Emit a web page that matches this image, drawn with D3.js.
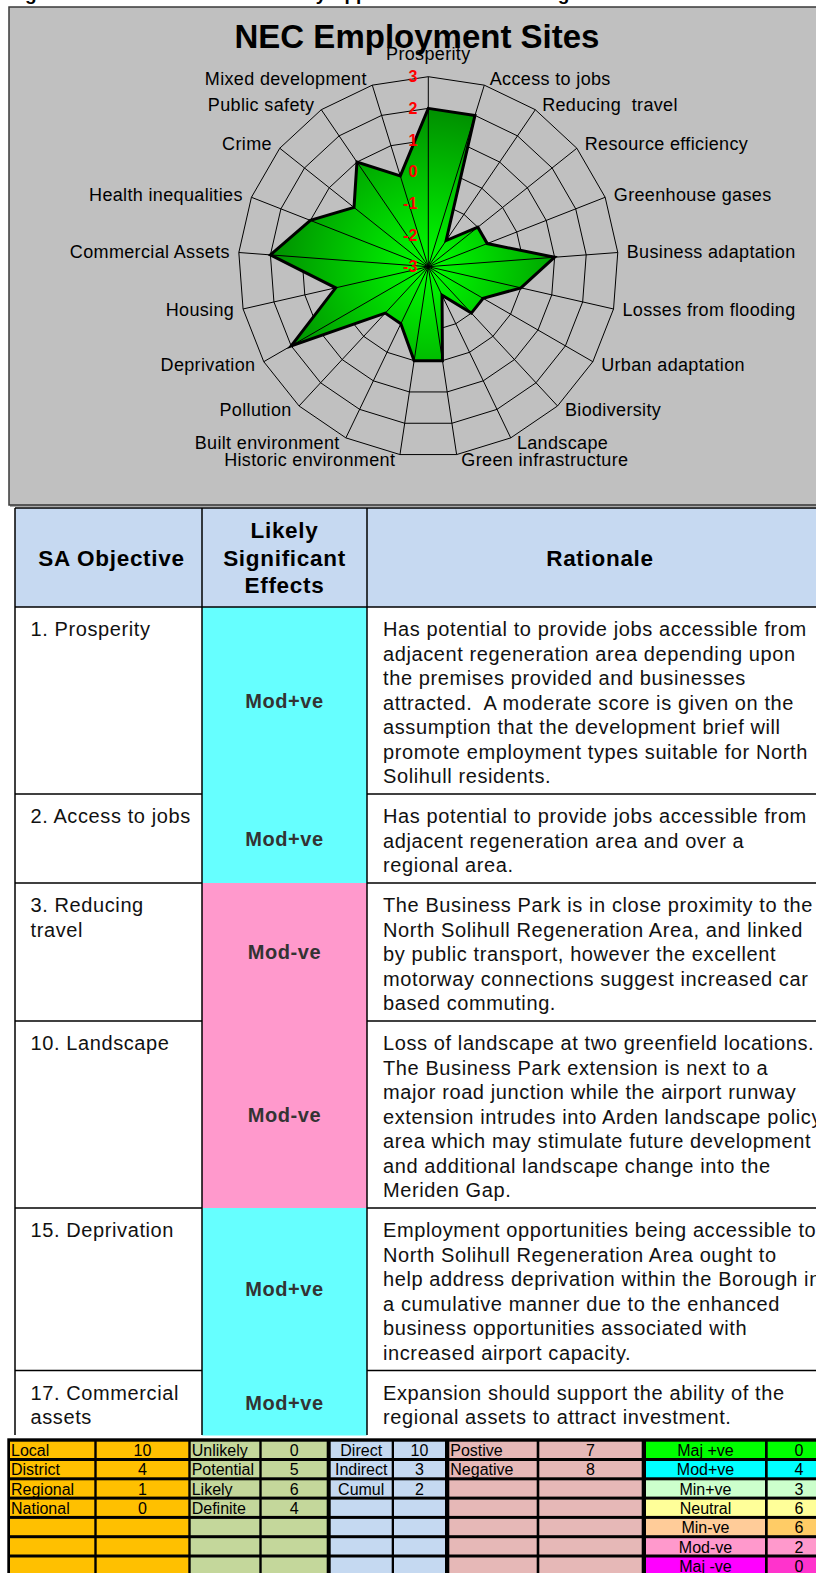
<!DOCTYPE html>
<html>
<head>
<meta charset="utf-8">
<script src="https://cdn.jsdelivr.net/npm/d3@7"></script>
<style>
  body { margin: 0; background: #fff; }
  svg { display: block; font-family: "Liberation Sans", Arial, Helvetica, sans-serif; }
</style>
</head>
<body>
<div id="chart"></div>
<script>
// radar data
const axes = ["Prosperity", "Access to jobs", "Reducing  travel", "Resource efficiency", "Greenhouse gases",
  "Business adaptation", "Losses from flooding", "Urban adaptation", "Biodiversity", "Landscape",
  "Green infrastructure", "Historic environment", "Built environment", "Pollution", "Deprivation",
  "Housing", "Commercial Assets", "Health inequalities", "Crime", "Public safety", "Mixed development"];
const scores = [2, 2, -2, -1, -1, 1, 0, -1, -1, -2, 0, 0, -1, -1, 2, 0, 2, 1, 0, 1, 0];
const ticks = [3, 2, 1, 0, -1, -2, -3];

// table data
const headers = [["SA Objective"], ["Likely", "Significant", "Effects"], ["Rationale"]];
const objectives = [["1. Prosperity"], ["2. Access to jobs"], ["3. Reducing", "travel"],
  ["10. Landscape"], ["15. Deprivation"], ["17. Commercial", "assets"]];
const effects = ["Mod+ve", "Mod+ve", "Mod-ve", "Mod-ve", "Mod+ve", "Mod+ve"];
const rationale = [
  ["Has potential to provide jobs accessible from", "adjacent regeneration area depending upon",
   "the premises provided and businesses", "attracted.  A moderate score is given on the",
   "assumption that the development brief will", "promote employment types suitable for North",
   "Solihull residents."],
  ["Has potential to provide jobs accessible from", "adjacent regeneration area and over a",
   "regional area."],
  ["The Business Park is in close proximity to the", "North Solihull Regeneration Area, and linked",
   "by public transport, however the excellent", "motorway connections suggest increased car",
   "based commuting."],
  ["Loss of landscape at two greenfield locations.", "The Business Park extension is next to a",
   "major road junction while the airport runway", "extension intrudes into Arden landscape policy",
   "area which may stimulate future development", "and additional landscape change into the",
   "Meriden Gap."],
  ["Employment opportunities being accessible to", "North Solihull Regeneration Area ought to",
   "help address deprivation within the Borough in", "a cumulative manner due to the enhanced",
   "business opportunities associated with", "increased airport capacity."],
  ["Expansion should support the ability of the", "regional assets to attract investment."]
];

// summary counts
const extentLabels = ["Local", "District", "Regional", "National"];
const extentCounts = [10, 4, 1, 0];
const likelihoodLabels = ["Unlikely", "Potential", "Likely", "Definite"];
const likelihoodCounts = [0, 5, 6, 4];
const typeLabels = ["Direct", "Indirect", "Cumul"];
const typeCounts = [10, 3, 2];
const directionLabels = ["Postive", "Negative"];
const directionCounts = [7, 8];
const ratingLabels = ["Maj +ve", "Mod+ve", "Min+ve", "Neutral", "Min-ve", "Mod-ve", "Maj -ve"];
const ratingCounts = [0, 4, 3, 6, 6, 2, 0];

const width = 816, height = 1573;

const svg = d3.select("#chart")
  .append("svg")
  .attr("width", width)
  .attr("height", height);

svg.append("rect").attr("width", width).attr("height", height).attr("fill", "#fff");

// caption, cut off by the page top
svg.append("text")
  .attr("x", 8).attr("y", -0.3)
  .attr("font-size", 19).attr("font-weight", "bold")
  .text("Figure 10.4 NEC Sites Area \u2013 Likely Appraisal Outcome Rating");

// chart area
svg.append("rect")
  .attr("x", 9).attr("y", 7)
  .attr("width", 840).attr("height", 498)
  .attr("fill", "#c0c0c0")
  .attr("stroke", "#3a3a3a")
  .attr("stroke-width", 1.5);
svg.append("line")
  .attr("x1", 10).attr("x2", width).attr("y1", 505.5).attr("y2", 505.5)
  .attr("stroke", "#555").attr("stroke-width", 2);

svg.append("text")
  .attr("x", 417).attr("y", 48)
  .attr("text-anchor", "middle")
  .attr("font-size", 33).attr("font-weight", "bold")
  .text("NEC Employment Sites");

const cx = 428.3, cy = 266.7;
let rScale = d3.scaleLinear().domain([-3, 3]).range([0, 190]);
let aScale = d3.scaleLinear().domain([0, axes.length]).range([0, 2 * Math.PI]);

let defs = svg.append("defs");
let grad = defs.append("radialGradient")
  .attr("id", "fillGrad")
  .attr("gradientUnits", "userSpaceOnUse")
  .attr("cx", 0).attr("cy", 0).attr("r", 165);
grad.append("stop").attr("offset", "0%").attr("stop-color", "#00ff00");
grad.append("stop").attr("offset", "100%").attr("stop-color", "#008a00");

let radar = svg.append("g").attr("transform", `translate(${cx},${cy})`);

let ring = d3.lineRadial()
  .angle((d, i) => aScale(i))
  .radius(d => rScale(d))
  .curve(d3.curveLinearClosed);

// grid rings
radar.selectAll("path.ring")
  .data(ticks.filter(t => t > -3))
  .join("path")
  .attr("class", "ring")
  .attr("d", t => ring(axes.map(() => t)))
  .attr("fill", "none")
  .attr("stroke", "#000")
  .attr("stroke-width", 1);

// filled series
radar.append("path")
  .attr("d", ring(scores))
  .attr("fill", "url(#fillGrad)");

// spokes
radar.selectAll("line.spoke")
  .data(axes)
  .join("line")
  .attr("class", "spoke")
  .attr("x1", 0).attr("y1", 0)
  .attr("x2", (d, i) => rScale(3) * Math.sin(aScale(i)))
  .attr("y2", (d, i) => -rScale(3) * Math.cos(aScale(i)))
  .attr("stroke", "#000")
  .attr("stroke-width", 1);

radar.append("path")
  .attr("d", ring(scores))
  .attr("fill", "none")
  .attr("stroke", "#000")
  .attr("stroke-width", 3)
  .attr("stroke-linejoin", "miter");

// category labels
radar.selectAll("text.cat")
  .data(axes)
  .join("text")
  .attr("class", "cat")
  .attr("font-size", 18)
  .attr("letter-spacing", 0.35)
  .style("white-space", "pre")
  .each(function (d, i) {
    let a = aScale(i), s = Math.sin(a), c = Math.cos(a);
    let vx = rScale(3) * s, vy = -rScale(3) * c;
    let t = d3.select(this);
    if (Math.abs(s) < 0.01) {
      t.attr("x", vx).attr("y", vy - 17).attr("text-anchor", "middle");
    } else {
      t.attr("x", vx + Math.sign(s) * (4 + 5 * Math.abs(s)))
        .attr("y", vy + 6 - 6 * c)
        .attr("text-anchor", s > 0 ? "start" : "end");
    }
  })
  .text(d => d);

// value labels
radar.selectAll("text.tick")
  .data(ticks)
  .join("text")
  .attr("class", "tick")
  .attr("x", -11)
  .attr("y", d => -rScale(d))
  .attr("dy", "0.36em")
  .attr("text-anchor", "end")
  .attr("font-size", 16)
  .attr("font-weight", "bold")
  .attr("fill", "#ff0000")
  .text(d => d);

// ---- appraisal table ----
const colX = [15, 202, 367, 833];
const tableTop = 508, headH = 99, lineH = 24.5, pad = 15.5;

let effectColor = d3.scaleOrdinal()
  .domain(["Mod+ve", "Mod-ve"])
  .range(["#66ffff", "#ff99cc"]);

let rowH = rationale.map((r, i) => Math.max(r.length, objectives[i].length) * lineH + pad);
let rowY = [];
rowH.reduce((y, h) => { rowY.push(y); return y + h; }, tableTop + headH);
let tableBottom = rowY[rowY.length - 1] + rowH[rowH.length - 1];

let table = svg.append("g");

table.append("rect")
  .attr("x", colX[0]).attr("y", tableTop)
  .attr("width", colX[3] - colX[0]).attr("height", headH)
  .attr("fill", "#c6d9f1");

table.selectAll("rect.eff")
  .data(effects)
  .join("rect")
  .attr("class", "eff")
  .attr("x", colX[1]).attr("y", (d, i) => rowY[i])
  .attr("width", colX[2] - colX[1]).attr("height", (d, i) => rowH[i] + 0.5)
  .attr("fill", d => effectColor(d));

headers.forEach((lines, c) => {
  let mx = (colX[c] + colX[c + 1]) / 2;
  if (c === 0) mx += 3;
  lines.forEach((ln, k) => {
    table.append("text")
      .attr("x", mx)
      .attr("y", tableTop + headH / 2 + (k - (lines.length - 1) / 2) * 27.7)
      .attr("dy", "0.36em")
      .attr("text-anchor", "middle")
      .attr("font-size", 22.5)
      .attr("letter-spacing", 0.7)
      .attr("font-weight", "bold")
      .text(ln);
  });
});

objectives.forEach((lines, i) => {
  lines.forEach((ln, k) => {
    table.append("text")
      .attr("x", 30.5).attr("y", rowY[i] + 29 + k * lineH)
      .attr("font-size", 20).attr("letter-spacing", 0.6).attr("fill", "#111")
      .text(ln);
  });
});

rationale.forEach((lines, i) => {
  lines.forEach((ln, k) => {
    table.append("text")
      .attr("x", 383).attr("y", rowY[i] + 29 + k * lineH)
      .attr("font-size", 20).attr("letter-spacing", 0.6).attr("fill", "#111")
      .style("white-space", "pre")
      .text(ln);
  });
});

table.selectAll("text.effText")
  .data(effects)
  .join("text")
  .attr("class", "effText")
  .attr("x", (colX[1] + colX[2]) / 2)
  .attr("y", (d, i) => rowY[i] + rowH[i] / 2)
  .attr("dy", "0.36em")
  .attr("text-anchor", "middle")
  .attr("font-size", 20)
  .attr("letter-spacing", 0.6)
  .attr("font-weight", "bold")
  .attr("fill", "#333")
  .text(d => d);

// borders
let hLines = [tableTop, tableTop + headH];
table.selectAll("line.h")
  .data(hLines)
  .join("line")
  .attr("class", "h")
  .attr("x1", colX[0]).attr("x2", colX[3])
  .attr("y1", d => d).attr("y2", d => d)
  .attr("stroke", "#000").attr("stroke-width", 1.5);

[[colX[0], colX[1]], [colX[2], colX[3]]].forEach(seg => {
  table.selectAll(null)
    .data(rowY.slice(1))
    .join("line")
    .attr("x1", seg[0]).attr("x2", seg[1])
    .attr("y1", d => d).attr("y2", d => d)
    .attr("stroke", "#000").attr("stroke-width", 1.5);
});

table.selectAll("line.v")
  .data(colX.slice(0, 3))
  .join("line")
  .attr("class", "v")
  .attr("x1", d => d).attr("x2", d => d)
  .attr("y1", tableTop).attr("y2", tableBottom)
  .attr("stroke", "#000").attr("stroke-width", 1.5);

// ---- summary grid ----
const legTop = 1438.3, rowPitch = 19.3, cellH = 16.3;
const legCols = [[10, 94.3], [96.7, 188.3], [190.7, 259.3], [261.7, 326.7], [330.7, 391.7],
  [394, 445], [449.3, 536.7], [539.3, 641.7], [646, 765], [767.7, 830]];

let ratingFill = d3.scaleOrdinal().domain(ratingLabels)
  .range(["#00ff00", "#00ffff", "#ccffcc", "#ffff99", "#ffcc99", "#ff99cc", "#ff00ff"]);
let ratingCountFill = d3.scaleOrdinal().domain(ratingLabels)
  .range(["#00ff00", "#00ffff", "#ccffcc", "#ffff99", "#ffcc66", "#ff99cc", "#ff33cc"]);

let groups = [
  { labels: extentLabels, counts: extentCounts, fill: "#ffc000", align: "start" },
  { labels: likelihoodLabels, counts: likelihoodCounts, fill: "#c4d79b", align: "start" },
  { labels: typeLabels, counts: typeCounts, fill: "#c5d9f1", align: "middle" },
  { labels: directionLabels, counts: directionCounts, fill: "#e6b8b7", align: "start" },
  { labels: ratingLabels, counts: ratingCounts, fill: null, align: "middle" }
];

let leg = svg.append("g");
leg.append("rect")
  .attr("x", 7.3).attr("y", legTop)
  .attr("width", width).attr("height", height - legTop)
  .attr("fill", "#000");

let rows = d3.range(7);
groups.forEach((g, gi) => {
  let lc = legCols[gi * 2], cc = legCols[gi * 2 + 1];
  rows.forEach(k => {
    let y = legTop + 3.4 + k * rowPitch;
    let lab = g.labels[k], cnt = g.counts[k];
    leg.append("rect")
      .attr("x", lc[0]).attr("y", y).attr("width", lc[1] - lc[0]).attr("height", cellH)
      .attr("fill", g.fill || ratingFill(lab));
    leg.append("rect")
      .attr("x", cc[0]).attr("y", y).attr("width", cc[1] - cc[0]).attr("height", cellH)
      .attr("fill", g.fill || ratingCountFill(lab));
    if (lab !== undefined) {
      leg.append("text")
        .attr("x", g.align === "start" ? lc[0] + 1 : (lc[0] + lc[1]) / 2)
        .attr("y", y + 14.3)
        .attr("text-anchor", g.align)
        .attr("font-size", 16)
        .text(lab);
      leg.append("text")
        .attr("x", (cc[0] + cc[1]) / 2)
        .attr("y", y + 14.3)
        .attr("text-anchor", "middle")
        .attr("font-size", 16)
        .text(cnt);
    }
  });
});
</script>
</body>
</html>
